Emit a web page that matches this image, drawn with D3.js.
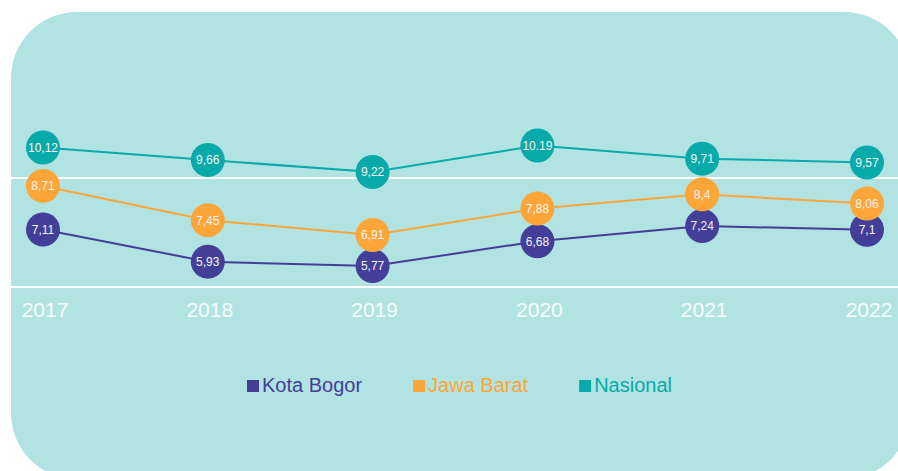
<!DOCTYPE html>
<head>
    <meta charset="utf-8">
    <title>Kota Bogor - Jawa Barat - Nasional</title>
    <script src="https://d3js.org/d3.v7.min.js"></script>
    <style>
        body { margin: 0; background: #fff; }
        text { font-family: "Liberation Sans", Arial, sans-serif; }
    </style>
</head>
<body>
    <script>
        const years = ["2017", "2018", "2019", "2020", "2021", "2022"]
        const kotaBogor = [7.11, 5.93, 5.77, 6.68, 7.24, 7.1]
        const jawaBarat = [8.71, 7.45, 6.91, 7.88, 8.4, 8.06]
        const nasional = [10.12, 9.66, 9.22, 10.19, 9.71, 9.57]
        // the source writes one of these with a dot
        const nasionalLabels = ["10,12", "9,66", "9,22", "10.19", "9,71", "9,57"]
        const gridValues = [5, 9]

        const commaFmt = (v) => String(v).replace(".", ",")

        const series = [
            { name: "Kota Bogor", values: kotaBogor, labels: kotaBogor.map(commaFmt), color: "#433f99" },
            { name: "Jawa Barat", values: jawaBarat, labels: jawaBarat.map(commaFmt), color: "#fca63a" },
            { name: "Nasional", values: nasional, labels: nasionalLabels, color: "#07aaa8" }
        ]

        const width = 898
        const height = 471

        const vis = d3.select("body").append("svg")
            .attr("width", width)
            .attr("height", height)

        vis.append("rect")
            .attr("x", 11).attr("y", 12)
            .attr("width", 899).attr("height", 467)
            .attr("rx", 66).attr("ry", 66)
            .attr("fill", "#b1e3e3")

        const x = d3.scalePoint().domain(years).range([43, 867])
        const y = d3.scaleLinear().domain([5, 9]).range([287, 178])

        vis.append("g").selectAll("line")
            .data(gridValues)
            .join("line")
                .attr("x1", 11).attr("x2", width)
                .attr("y1", (d) => y(d)).attr("y2", (d) => y(d))
                .attr("stroke", "#fff")
                .attr("stroke-width", 2)

        vis.append("g").selectAll("text")
            .data(years)
            .join("text")
                .attr("x", (d) => x(d) + 2)
                .attr("y", 317)
                .attr("text-anchor", "middle")
                .attr("font-size", 21)
                .attr("fill", "#f7fdfd")
                .text((d) => d)

        const line = d3.line()
            .x((d, i) => x(years[i]))
            .y((d) => y(d))

        const groups = vis.append("g").selectAll("g")
            .data(series)
            .join("g")

        groups.append("path")
            .attr("d", (s) => line(s.values))
            .attr("fill", "none")
            .attr("stroke", (s) => s.color)
            .attr("stroke-width", 2)

        groups.each(function(s) {
            const g = d3.select(this)
            const pts = s.values.map((v, i) => ({ v, year: years[i], label: s.labels[i] }))
            g.selectAll("circle")
                .data(pts)
                .join("circle")
                    .attr("cx", (d) => x(d.year))
                    .attr("cy", (d) => y(d.v))
                    .attr("r", 17)
                    .attr("fill", s.color)
            g.selectAll("text")
                .data(pts)
                .join("text")
                    .attr("x", (d) => x(d.year))
                    .attr("y", (d) => y(d.v))
                    .attr("dy", "0.36em")
                    .attr("text-anchor", "middle")
                    .attr("font-size", 12)
                    .attr("fill", "#f4f4f4")
                    .text((d) => d.label)
        })

        // legend
        const legend = vis.append("g")
        let lx = 247
        series.forEach((s) => {
            legend.append("rect")
                .attr("x", lx).attr("y", 380)
                .attr("width", 12).attr("height", 12)
                .attr("fill", s.color)
            const t = legend.append("text")
                .attr("x", lx + 15)
                .attr("y", 392)
                .attr("font-size", 20)
                .attr("fill", s.color)
                .text(s.name)
            lx += 15 + t.node().getComputedTextLength() + 51
        })
    </script>
</body>
